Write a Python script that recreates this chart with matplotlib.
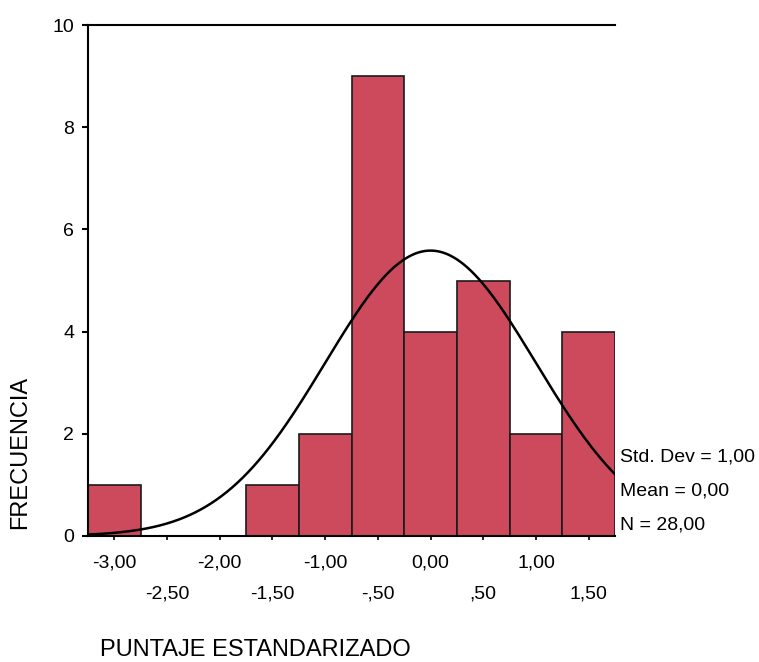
import numpy as np
import matplotlib
matplotlib.use("Agg")
import matplotlib.pyplot as plt

plt.rcParams['font.family'] = ['Liberation Sans', 'DejaVu Sans']

bin_centers = [-3.00, -2.50, -2.00, -1.50, -1.00, -0.50, 0.00, 0.50, 1.00, 1.50]
counts = [1, 0, 0, 1, 2, 9, 4, 5, 2, 4]
row1_ticks = [-3.00, -2.00, -1.00, 0.00, 1.00]
row1_labels = ["-3,00", "-2,00", "-1,00", "0,00", "1,00"]
row2_ticks = [-2.50, -1.50, -0.50, 0.50, 1.50]
row2_labels = ["-2,50", "-1,50", "-,50", ",50", "1,50"]
y_ticks = [0, 2, 4, 6, 8, 10]
stats = ["Std. Dev = 1,00", "Mean = 0,00", "N = 28,00"]
mean, sd, n, bw = 0.0, 1.0, 28, 0.5

fig = plt.figure(figsize=(7.59, 6.62), dpi=100)
ax = fig.add_axes([88/759, 1-536/662, 527/759, 511/662])

ax.bar(bin_centers, counts, width=bw, color='#CD4A5D', edgecolor='#1a1a1a', linewidth=1.2, zorder=2)

xs = np.linspace(-3.25, 1.75, 400)
ys = n * bw * np.exp(-0.5 * ((xs - mean) / sd) ** 2) / (sd * np.sqrt(2 * np.pi))
ax.plot(xs, ys, color='black', linewidth=1.8, zorder=3)

ax.set_xlim(-3.25, 1.75)
ax.set_ylim(0, 10)
ax.spines['right'].set_visible(False)
for s in ['left', 'bottom', 'top']:
    ax.spines[s].set_linewidth(1.5)

ax.set_yticks(y_ticks)
ax.set_yticklabels([str(v) for v in y_ticks], fontsize=14)
ax.tick_params(axis='y', length=4, width=1.5, pad=6)

ax.set_xticks(bin_centers)
ax.set_xticklabels([])
ax.tick_params(axis='x', length=3, width=1.2, direction='out')
for t, l in zip(row1_ticks, row1_labels):
    ax.text(t, -0.36, l, ha='center', va='top', fontsize=14, transform=ax.transData)
for t, l in zip(row2_ticks, row2_labels):
    ax.text(t, -0.97, l, ha='center', va='top', fontsize=14, transform=ax.transData)

for i, s in enumerate(stats):
    fig.text(620/759, 1 - (457 + i*34)/662, s, ha='left', va='center', fontsize=14)

fig.text(20/759, 1 - 452/662, "FRECUENCIA", rotation=90, ha='center', va='center', fontsize=17)
fig.text(100/759, 1 - 650/662, "PUNTAJE ESTANDARIZADO", ha='left', va='center', fontsize=17)

fig.savefig("out.png", dpi=100, facecolor='white')
